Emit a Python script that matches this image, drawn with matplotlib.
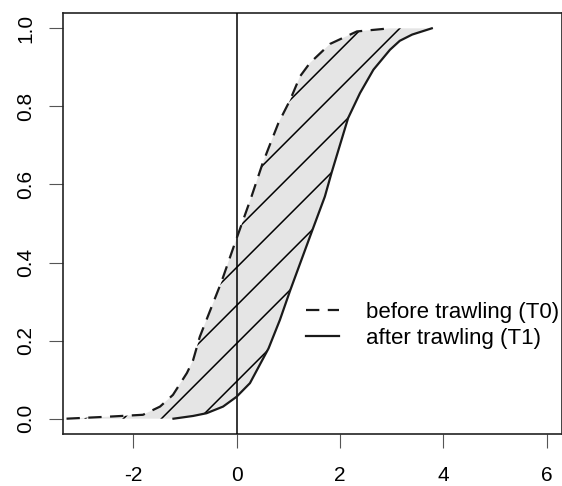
import numpy as np
import matplotlib
matplotlib.use("Agg")
import matplotlib.pyplot as plt
from matplotlib.patches import Polygon

plt.rcParams["font.family"] = ["Liberation Sans", "DejaVu Sans"]

# Cumulative curves before (T0) and after (T1) trawling
t0_x = [-3.29, -2.5, -1.81, -1.48, -1.23, -0.96, -0.84, -0.71, -0.29, -0.03, 0.07,
        0.29, 0.50, 0.62, 0.81, 1.04, 1.23, 1.42, 1.81, 2.33, 2.97]
t0_y = [0.0, 0.005, 0.01, 0.031, 0.061, 0.117, 0.15, 0.21, 0.351, 0.45, 0.487,
        0.569, 0.652, 0.693, 0.757, 0.817, 0.877, 0.911, 0.96, 0.992, 1.0]

t1_x = [-1.22, -0.84, -0.58, -0.26, 0.0, 0.26, 0.62, 0.84, 1.04, 1.46, 1.71, 1.84,
        2.16, 2.39, 2.65, 2.97, 3.16, 3.40, 3.78]
t1_y = [0.0, 0.007, 0.014, 0.031, 0.056, 0.091, 0.18, 0.253, 0.329, 0.48, 0.569, 0.63,
        0.77, 0.834, 0.894, 0.945, 0.968, 0.984, 1.0]

x_ticks = [-2, 0, 2, 4, 6]
y_ticks = [0.0, 0.2, 0.4, 0.6, 0.8, 1.0]
labels = ["before trawling (T0)", "after trawling (T1)"]

W, H, DPI = 562, 486, 100
fig = plt.figure(figsize=(W / DPI, H / DPI), dpi=DPI)
ax = fig.add_axes([62.7 / W, 1 - 434.3 / H, (W - 62.7) / W, (434.3 - 12.7) / H])
ax.set_xlim(-3.364, 6.30)
ax.set_ylim(-0.04, 1.04)

# shaded band between the two curves
verts = list(zip(t0_x, t0_y)) + list(zip(t1_x[::-1], t1_y[::-1]))
band = Polygon(verts, closed=True, facecolor="#e5e5e5", edgecolor="none", zorder=1)
ax.add_patch(band)

# 45-degree hatching (in screen space) clipped to the band
fig.canvas.draw()
p0 = ax.transData.transform((0, 0))
p1 = ax.transData.transform((1, 1))
slope = (p1[0] - p0[0]) / (p1[1] - p0[1])
gap = 38.0 / (p1[1] - p0[1])
xs = np.array([-4.0, 7.0])
for k in range(-3, 14):
    b = 0.095 + k * gap
    ln, = ax.plot(xs, b + slope * xs, color="black", lw=1.1, zorder=2)
    ln.set_clip_path(band)

ax.axvline(0, color="black", lw=1.1, zorder=3)
ax.plot(t0_x, t0_y, color="#1a1a1a", lw=1.6, dashes=(6.0, 3.8), zorder=4, label=labels[0])
ax.plot(t1_x, t1_y, color="#1a1a1a", lw=1.6, zorder=4, label=labels[1])

ax.set_xticks(x_ticks)
ax.set_yticks(y_ticks)
ax.set_xticklabels([f"{v:g}" for v in x_ticks])
ax.set_yticklabels([f"{v:.1f}" for v in y_ticks], rotation=90, va="center")
ax.tick_params(axis="both", length=10, width=0.8, color="#555555", labelsize=15)
ax.tick_params(axis="x", pad=13)
ax.tick_params(axis="y", pad=10)
for s in ax.spines.values():
    s.set_linewidth(1.2)
    s.set_color("#222222")

leg = ax.legend(loc="upper left", frameon=False, fontsize=16, handlelength=1.5,
                handletextpad=1.2, labelspacing=0.22, borderpad=0, borderaxespad=0)
leg.set_bbox_to_anchor((306 / W, 1 - 302 / H), transform=fig.transFigure)

fig.savefig("out.png", dpi=DPI)
